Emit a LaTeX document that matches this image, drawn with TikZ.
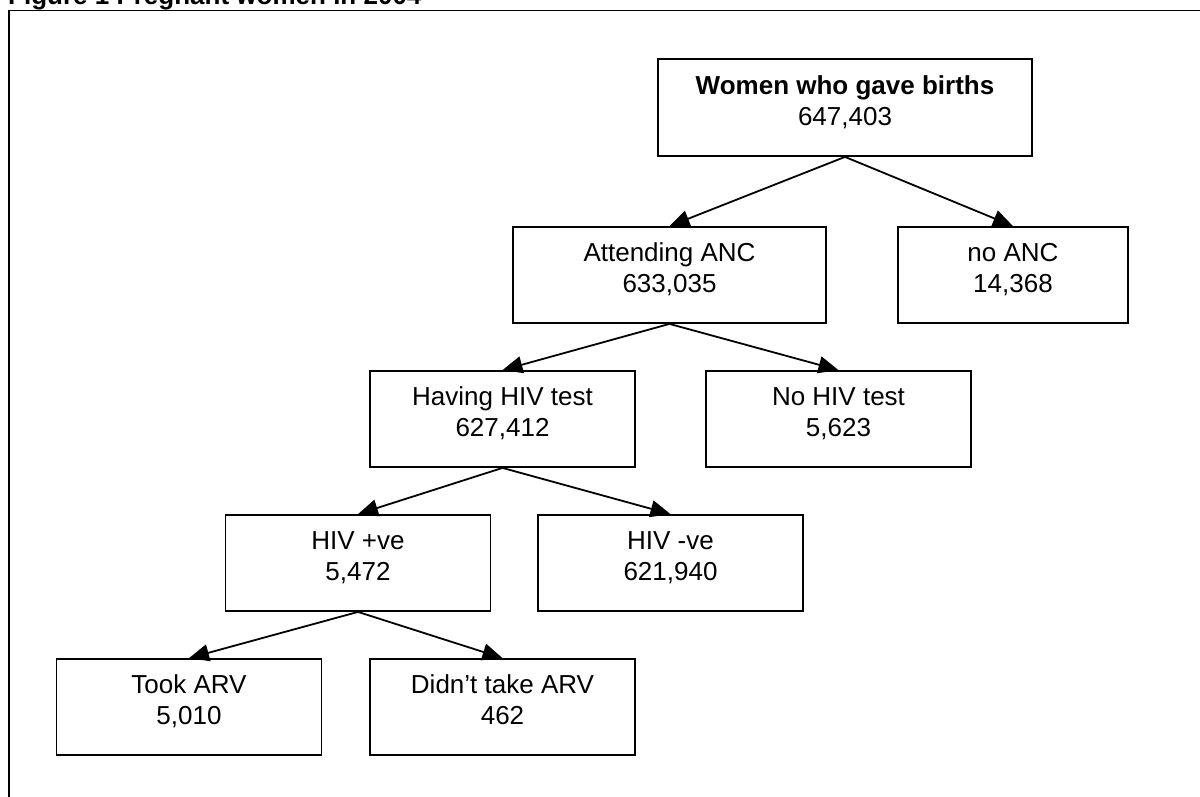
\documentclass[tikz,border=0pt]{standalone}
\usepackage{fontspec}
\setmainfont{Liberation Sans}
\usetikzlibrary{arrows.meta}
\begin{document}
\begin{tikzpicture}[x=1pt, y=-1pt,
    cnode/.style={rectangle, draw=black, line width=1.8pt, align=center, minimum width=265pt, minimum height=96pt, inner sep=0pt, font=\fontsize{26pt}{31pt}\selectfont, text height=50pt, text depth=15pt},
    edge/.style={-{Triangle[length=20pt, width=17pt]}, line width=1.8pt},
]
\useasboundingbox (0,0) rectangle (1200,796);
\clip (0,0) rectangle (1200,796);
\node[anchor=base west, inner sep=0pt, font=\bfseries\fontsize{26pt}{31pt}\selectfont] (title) at (8,4) {Figure 1 Pregnant women in 2004};
\draw[line width=1.8pt] (1210,10.5) -- (9,10.5) -- (9,806);
\node[cnode, minimum width=374pt, minimum height=97pt] (n1) at (845,107.5) {\textbf{Women who gave births}\\647,403};
\node[cnode, minimum width=313pt] (n2) at (669.5,275) {Attending ANC\\633,035};
\node[cnode, minimum width=230pt] (n3) at (1013,275) {no ANC\\14,368};
\node[cnode] (n4) at (502.5,419) {Having HIV test\\627,412};
\node[cnode] (n5) at (838.5,419) {No HIV test\\5,623};
\node[cnode] (n6) at (358,563) {HIV +ve\\5,472};
\node[cnode] (n7) at (670.5,563) {HIV -ve\\621,940};
\node[cnode] (n8) at (189,707) {Took ARV\\5,010};
\node[cnode] (n9) at (502.5,707) {Didn’t take ARV\\462};
\draw[edge] (n1.south) -- (n2.north);
\draw[edge] (n1.south) -- (n3.north);
\draw[edge] (n2.south) -- (n4.north);
\draw[edge] (n2.south) -- (n5.north);
\draw[edge] (n4.south) -- (n6.north);
\draw[edge] (n4.south) -- (n7.north);
\draw[edge] (n6.south) -- (n8.north);
\draw[edge] (n6.south) -- (n9.north);
\end{tikzpicture}
\end{document}
